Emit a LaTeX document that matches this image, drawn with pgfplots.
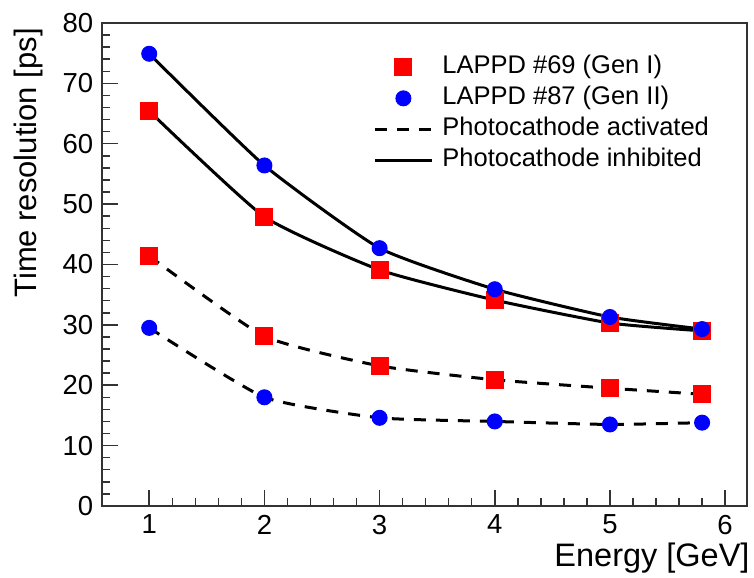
\documentclass[border=0pt]{standalone}
\usepackage{fontspec}
\setmainfont{Liberation Sans}
\usepackage{pgfplots}
\pgfplotsset{compat=1.18}

\begin{document}
\begin{tikzpicture}
\begin{axis}[
    scale only axis,
    width=258pt, height=193.2pt,
    xmin=0.59, xmax=6.19,
    ymin=0, ymax=80,
    xtick={1,2,3,4,5,6},
    ytick={0,10,...,80},
    minor x tick num=4,
    minor y tick num=4,
    xtick pos=bottom, ytick pos=left,
    tick align=inside,
    major tick length=6.5pt,
    minor tick length=3.3pt,
    axis line style={black!80, line width=0.6pt},
    every tick/.style={black!80, line width=0.6pt},
    /pgf/number format/assume math mode=true,
    tick label style={font=\fontsize{11}{13.2}\selectfont},
    xlabel={Energy [GeV]},
    ylabel={Time resolution [ps]},
    xlabel style={at={(axis description cs:1.0047,-0.1263)}, anchor=base east,
        inner sep=0pt, font=\fontsize{13}{15.6}\selectfont},
    ylabel style={at={(axis description cs:-0.102,0.99)}, anchor=base east,
        inner sep=0pt, font=\fontsize{12.4}{14.9}\selectfont},
    legend style={draw=none, fill=none, inner sep=0pt,
        at={(axis description cs:0.42,0.934)}, anchor=north west,
        font=\fontsize{10.2}{12}\selectfont,
        nodes={inner sep=0pt, text height=7.4pt, text depth=2.2pt},
        row sep=2.8pt, column sep=3.6pt},
    legend cell align=left,
]
% lines (ROOT-like smooth curves)
\addplot[forget plot, black, line width=1.2pt, smooth, tension=0.3]
    coordinates {(1,65.4)(2,47.9)(3,39.1)(4,34.1)(5,30.3)(5.8,29.0)};
\addplot[forget plot, black, line width=1.2pt, smooth, tension=0.3]
    coordinates {(1,74.9)(2,56.4)(3,42.7)(4,35.9)(5,31.3)(5.8,29.3)};
\addplot[forget plot, black, line width=1.2pt, dash pattern=on 4.8pt off 4pt, smooth, tension=0.3]
    coordinates {(1,41.4)(2,28.1)(3,23.2)(4,20.9)(5,19.5)(5.8,18.5)};
\addplot[forget plot, black, line width=1.2pt, dash pattern=on 4.8pt off 4pt, smooth, tension=0.3]
    coordinates {(1,29.5)(2,18.0)(3,14.6)(4,14.0)(5,13.5)(5.8,13.8)};
% markers
\addplot[forget plot, only marks, mark=square*, mark size=3.4pt, red]
    coordinates {(1,65.4)(2,47.9)(3,39.1)(4,34.1)(5,30.3)(5.8,29.0)
                 (1,41.4)(2,28.1)(3,23.2)(4,20.9)(5,19.5)(5.8,18.5)};
\addplot[forget plot, only marks, mark=*, mark size=3pt, blue]
    coordinates {(1,74.9)(2,56.4)(3,42.7)(4,35.9)(5,31.3)(5.8,29.3)
                 (1,29.5)(2,18.0)(3,14.6)(4,14.0)(5,13.5)(5.8,13.8)};
% legend
\addlegendimage{legend image code/.code={
    \draw[only marks, mark=square*, mark size=3.4pt, red] plot coordinates {(11.4pt,0pt)};
    \path (0pt,0pt) (22.8pt,0pt);}}
\addlegendentry{LAPPD \#69 (Gen I)}
\addlegendimage{legend image code/.code={
    \draw[only marks, mark=*, mark size=3pt, blue] plot coordinates {(11.4pt,0pt)};
    \path (0pt,0pt) (22.8pt,0pt);}}
\addlegendentry{LAPPD \#87 (Gen II)}
\addlegendimage{legend image code/.code={
    \draw[black, line width=1.2pt, dash pattern=on 4.8pt off 4pt] (0pt,0pt) -- (22.8pt,0pt);}}
\addlegendentry{Photocathode activated}
\addlegendimage{legend image code/.code={
    \draw[black, line width=1.2pt] (0pt,0pt) -- (22.8pt,0pt);}}
\addlegendentry{Photocathode inhibited}
\coordinate (ll) at (rel axis cs:0,0);
\coordinate (ur) at (rel axis cs:1,1);
\end{axis}
\pgfresetboundingbox
\path[use as bounding box] ([shift={(-40.8pt,-28.8pt)}]ll) rectangle ([shift={(2.8pt,9.2pt)}]ur);
\end{tikzpicture}
\end{document}
